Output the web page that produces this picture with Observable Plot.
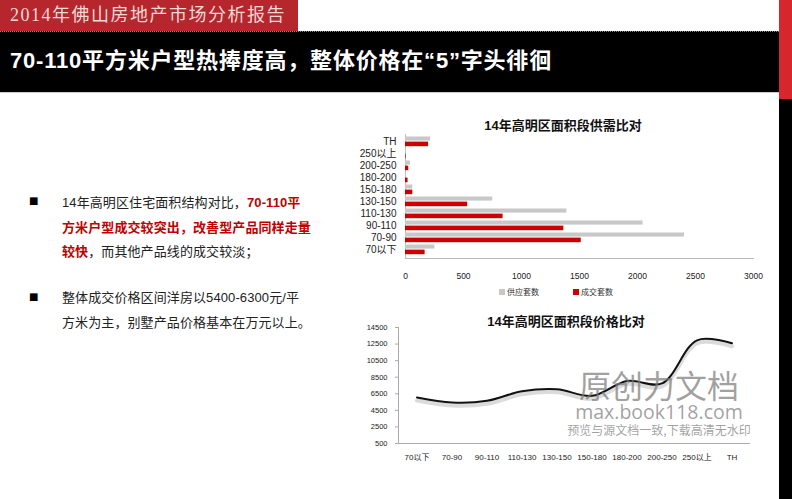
<!DOCTYPE html>
<html>
<head>
<meta charset="utf-8">
<script src="https://cdn.jsdelivr.net/npm/d3@7"></script>
<script src="https://cdn.jsdelivr.net/npm/@observablehq/plot@0.6"></script>
<style>
  html, body { margin: 0; padding: 0; background: #fff; }
  #page { position: relative; width: 792px; height: 499px; overflow: hidden; background: #fff;
          font-family: "Liberation Sans", "Noto Sans CJK SC", sans-serif; }
  .abs { position: absolute; white-space: nowrap; }
  #banner { left: 0; top: 0; width: 298px; height: 31px; background: #b5272c; }
  #bannerText { left: 10px; top: 3px; font-family: "Liberation Serif", "Noto Sans CJK SC", serif;
                font-size: 18px; letter-spacing: 1.5px; color: #f4d6d6; line-height: 24px; }
  #titleBar { left: 0; top: 31px; width: 779px; height: 62px; background: #000;
              border-top: 1px dotted #888; border-bottom: 1px solid #ccc; box-sizing: border-box; }
  #titleText { left: 10px; top: 46px; font-size: 22px; font-weight: bold; color: #fff; line-height: 30px;
               letter-spacing: 0.8px; font-family: "Liberation Sans", "Noto Sans CJK SC", sans-serif; }
  #stripRed { left: 779px; top: 0; width: 13px; height: 99px; background: #d7262c; }
  #stripBlack { left: 779px; top: 99px; width: 13px; height: 400px; background: #000; }
  .para { left: 62px; font-size: 13px; line-height: 24.5px; color: #222; letter-spacing: 0.1px; }
  .red { color: #c00000; font-weight: bold; }
  .bullet { left: 29px; font-family: "DejaVu Sans", sans-serif; font-size: 10px; color: #000; }
  .ctitle { font-size: 13px; font-weight: bold; color: #111; transform: translateX(-50%); }
  .leg { font-size: 8px; color: #333; line-height: 10px; }
  .sw { width: 6px; height: 6px; }
  #wm { left: 559px; top: 367px; width: 200px; text-align: center; font-size: 1px; line-height: 1px;
        color: rgba(125,125,125,0.72); }
  #wm .w1 { font-family: "Noto Sans CJK SC"; font-size: 32px; line-height: 34px; }
  #wm .w2 { font-family: "Open Sans", sans-serif; font-size: 19.5px; line-height: 22px; }
  #wm .w3 { font-family: "Noto Sans CJK SC"; font-size: 12px; line-height: 14px; }
  svg text { fill: #222; }
</style>
</head>
<body>
<div id="page">
  <div class="abs" id="banner"></div>
  <div class="abs" id="bannerText">2014年佛山房地产市场分析报告</div>
  <div class="abs" id="titleBar"></div>
  <div class="abs" id="titleText">70-110平方米户型热捧度高，整体价格在“5”字头徘徊</div>
  <div class="abs" id="stripRed"></div>
  <div class="abs" id="stripBlack"></div>

  <div class="abs bullet" style="top:195px;">■</div>
  <div class="abs para" style="top:191px;">14年高明区住宅面积结构对比，<span class="red">70-110平</span><br><span class="red">方米户型成交较突出，改善型产品同样走量</span><br><span class="red">较快</span>，而其他产品线的成交较淡；</div>
  <div class="abs bullet" style="top:291px;">■</div>
  <div class="abs para" style="top:286px;">整体成交价格区间洋房以5400-6300元/平<br>方米为主，别墅产品价格基本在万元以上。</div>

  <div class="abs ctitle" style="left:563px; top:115px;">14年高明区面积段供需比对</div>
  <div id="bars" class="abs" style="left:340px; top:110px;"></div>
  <div class="abs sw" style="left:499px; top:289px; background:#c8c8c8;"></div>
  <div class="abs leg" style="left:507px; top:288px;">供应套数</div>
  <div class="abs sw" style="left:573px; top:289px; background:#cc0000;"></div>
  <div class="abs leg" style="left:581px; top:288px;">成交套数</div>

  <div class="abs ctitle" style="left:566px; top:311px;">14年高明区面积段价格比对</div>
  <div id="line" class="abs" style="left:340px; top:300px;"></div>

  <div class="abs" id="wm"><span class="w1">原创力文档</span><br><span class="w2">max.book118.com</span><br><span class="w3">预览与源文档一致,下载高清无水印</span></div>
</div>
<script>
// ---- data ----
const categories = ["70以下", "70-90", "90-110", "110-130", "130-150", "150-180", "180-200", "200-250", "250以上", "TH"];
const supplyUnits = [253, 2405, 2048, 1391, 752, 63, 5, 43, 6, 216];   // 供应套数
const dealUnits   = [169, 1515, 1365, 841, 536, 63, 22, 28, 5, 199];   // 成交套数
const prices      = [6050, 5450, 5650, 6800, 7050, 6250, 8050, 7750, 12950, 12600];
const barTicks = [0, 500, 1000, 1500, 2000, 2500, 3000];
const priceTicks = [500, 2500, 4500, 6500, 8500, 10500, 12500, 14500];

const supplyRows = categories.map((c, i) => ({cat: c, value: supplyUnits[i]}));
const dealRows = categories.map((c, i) => ({cat: c, value: dealUnits[i]}));
const priceRows = categories.map((c, i) => ({cat: c, price: prices[i]}));

const barChart = Plot.plot({
  width: 420, height: 190,
  marginLeft: 65, marginRight: 7, marginTop: 24, marginBottom: 42,
  style: {fontFamily: "Liberation Sans, Noto Sans CJK SC, sans-serif", fontSize: "9px", color: "#222", background: "transparent", overflow: "visible"},
  x: {domain: [0, 3000], label: null},
  y: {domain: categories.slice().reverse(), padding: 0.06, label: null},
  marks: [
    Plot.axisX({ticks: barTicks, tickFormat: d => String(d), tickSize: 0, tickPadding: 14, fontSize: 8.5, label: null}),
    Plot.axisY({tickSize: 0, tickPadding: 9, fontSize: 10, label: null}),
    Plot.frame({anchor: "bottom", stroke: "#bbb"}),
    Plot.frame({anchor: "left", stroke: "#bbb"}),
    Plot.barX(supplyRows, {x: "value", y: "cat", fill: "#c8c8c8", insetTop: 0.5, insetBottom: 6.4}),
    Plot.barX(dealRows, {x: "value", y: "cat", fill: "#cc0000", insetTop: 5.6, insetBottom: 0.8})
  ]
});
document.getElementById("bars").appendChild(barChart);

const lineChart = Plot.plot({
  width: 420, height: 199,
  marginLeft: 58, marginRight: 11, marginTop: 27, marginBottom: 56,
  style: {fontFamily: "Liberation Sans, Noto Sans CJK SC, sans-serif", fontSize: "7.5px", color: "#aaa", background: "transparent", overflow: "visible"},
  x: {type: "band", domain: categories, padding: 0, label: null},
  y: {domain: [500, 14500], label: null},
  marks: [
    Plot.axisX({tickSize: 0, tickPadding: 11, fontSize: 8, label: null}),
    Plot.axisY({ticks: priceTicks, tickFormat: d => String(d), tickSize: 3, tickPadding: 8, fontSize: 7.5, label: null}),
    Plot.frame({anchor: "bottom", stroke: "#aaa"}),
    Plot.frame({anchor: "left", stroke: "#aaa"}),
    Plot.line(priceRows, {x: "cat", y: "price", curve: "catmull-rom", stroke: "#888", strokeOpacity: 0.3, strokeWidth: 4, dy: 3}),
    Plot.line(priceRows, {x: "cat", y: "price", curve: "catmull-rom", stroke: "#111", strokeWidth: 2})
  ]
});
document.getElementById("line").appendChild(lineChart);
</script>
</body>
</html>
